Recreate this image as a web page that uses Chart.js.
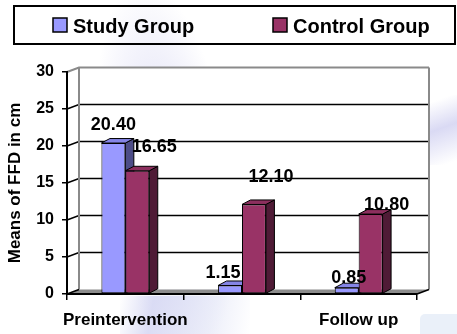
<!DOCTYPE html>
<html>
<head>
<meta charset="utf-8">
<script src="https://cdn.jsdelivr.net/npm/chart.js@4.4.1/dist/chart.umd.min.js"></script>
<style>
  html, body { margin: 0; padding: 0; }
  body { width: 457px; height: 334px; overflow: hidden; background: #ffffff; }
  #wrap { position: relative; width: 457px; height: 334px; }
  #wrap canvas { position: absolute; left: 0; top: 0; }
  .deco { position: absolute; pointer-events: none; }
  /* pale slide decoration behind the chart */
  #band { left: 95px; top: -20px; width: 130px; height: 380px;
          background: radial-gradient(ellipse 50% 50% at 55% 50%, rgba(200,200,238,0.65), rgba(255,255,255,0) 100%);
          transform: rotate(-8deg); }
  #foot { left: 120px; top: 296px; width: 130px; height: 38px;
          background: linear-gradient(100deg, rgba(215,215,242,0.0) 0%, rgba(210,212,242,0.8) 25%, rgba(225,228,246,0.6) 70%, rgba(255,255,255,0) 100%); }
  #streak { left: 428px; top: 95px; width: 40px; height: 70px;
          background: linear-gradient(160deg, rgba(255,255,255,0) 10%, rgba(205,205,240,0.75) 45%, rgba(255,255,255,0) 90%); }
  #tile { left: 420px; top: 314px; width: 50px; height: 30px; border-radius: 5px;
          background: rgba(232,238,248,0.9); }
</style>
</head>
<body>
<div id="wrap">
  <div class="deco" id="band"></div>
  <div class="deco" id="foot"></div>
  <div class="deco" id="streak"></div>
  <div class="deco" id="tile"></div>
  <canvas id="chart" width="457" height="334"></canvas>
</div>
<script>
// Mean FFD (cm) per assessment, for both groups
const categories = ['Preintervention', 'Postintervention', 'Follow up'];
const studyGroup = [20.40, 1.15, 0.85];
const controlGroup = [16.65, 12.10, 10.80];
const yTicks = [0, 5, 10, 15, 20, 25, 30];
const seriesNames = ['Study Group', 'Control Group'];

const FONT = "'Liberation Sans', Arial, sans-serif";

// colours: front, side, top
const palette = [
  { front: '#9999FF', side: '#4D4D88', top: '#8585E6' },
  { front: '#993366', side: '#4F1B36', top: '#8C2F5E' }
];

// depth of the back wall and of each column
const WALL = { dx: 12, dy: -4.5 };
const DEPTH = { dx: 8.5, dy: -4.5 };

// value label nudges (relative to top-centre of the column front)
const labelShift = [
  [[0, -18], [-7, -12], [2, -10]],
  [[17, -24], [17, -27], [16, -9]]
];

Chart.defaults.color = '#000';
Chart.defaults.font.family = FONT;

// back wall, gridlines and floor
const wallPlugin = {
  id: 'wall',
  beforeDraw(chart) {
    const ctx = chart.ctx, a = chart.chartArea, ys = chart.scales.y;
    const top = ys.getPixelForValue(30), bottom = ys.getPixelForValue(0);
    ctx.save();
    ctx.fillStyle = '#ffffff';
    ctx.fillRect(a.left + WALL.dx, top + WALL.dy, a.right - a.left, bottom - top);

    // gridlines, each with its short run back from the axis
    yTicks.forEach(v => {
      if (v === 0) return;
      const py = ys.getPixelForValue(v);
      ctx.beginPath();
      ctx.moveTo(a.left, py);
      ctx.lineTo(a.left + WALL.dx, py + WALL.dy);
      ctx.lineTo(a.right + WALL.dx, py + WALL.dy);
      ctx.strokeStyle = v === 30 ? '#8a8a8a' : '#000';
      ctx.lineWidth = v === 30 ? 2 : 1.5;
      ctx.stroke();
    });

    // wall side edges
    ctx.strokeStyle = '#8a8a8a';
    ctx.lineWidth = 2;
    ctx.beginPath();
    ctx.moveTo(a.left + WALL.dx, top + WALL.dy);
    ctx.lineTo(a.left + WALL.dx, bottom + WALL.dy);
    ctx.moveTo(a.right + WALL.dx, top + WALL.dy);
    ctx.lineTo(a.right + WALL.dx, bottom + WALL.dy);
    ctx.stroke();

    // floor
    ctx.beginPath();
    ctx.moveTo(a.left, bottom);
    ctx.lineTo(a.left + WALL.dx, bottom + WALL.dy);
    ctx.lineTo(a.right + WALL.dx, bottom + WALL.dy);
    ctx.lineTo(a.right, bottom);
    ctx.closePath();
    ctx.fillStyle = '#8c8c8c';
    ctx.fill();
    ctx.strokeStyle = '#000';
    ctx.lineWidth = 1.5;
    ctx.beginPath();
    ctx.moveTo(a.left, bottom);
    ctx.lineTo(a.left + WALL.dx, bottom + WALL.dy);
    ctx.moveTo(a.right, bottom);
    ctx.lineTo(a.right + WALL.dx, bottom + WALL.dy);
    ctx.stroke();
    ctx.restore();
  }
};

// side and top faces of the columns
const depthPlugin = {
  id: 'depth',
  beforeDatasetsDraw(chart) {
    const ctx = chart.ctx;
    ctx.save();
    ctx.lineWidth = 1;
    ctx.strokeStyle = '#000';
    ctx.lineJoin = 'round';
    categories.forEach((c, i) => {
      chart.data.datasets.forEach((ds, d) => {
        const el = chart.getDatasetMeta(d).data[i];
        if (!el) return;
        const p = el.getProps(['x', 'y', 'base', 'width'], true);
        const l = p.x - p.width / 2, r = p.x + p.width / 2;
        // side
        ctx.beginPath();
        ctx.moveTo(r, p.y);
        ctx.lineTo(r + DEPTH.dx, p.y + DEPTH.dy);
        ctx.lineTo(r + DEPTH.dx, p.base + DEPTH.dy);
        ctx.lineTo(r, p.base);
        ctx.closePath();
        ctx.fillStyle = palette[d].side;
        ctx.fill();
        ctx.stroke();
        // top
        ctx.beginPath();
        ctx.moveTo(l, p.y);
        ctx.lineTo(l + DEPTH.dx, p.y + DEPTH.dy);
        ctx.lineTo(r + DEPTH.dx, p.y + DEPTH.dy);
        ctx.lineTo(r, p.y);
        ctx.closePath();
        ctx.fillStyle = palette[d].top;
        ctx.fill();
        ctx.stroke();
      });
    });
    ctx.restore();
  }
};

// value labels and the boxed legend
const labelPlugin = {
  id: 'labels',
  afterDraw(chart) {
    const ctx = chart.ctx;
    ctx.save();
    ctx.fillStyle = '#000';
    ctx.font = 'bold 18px ' + FONT;
    ctx.textAlign = 'center';
    ctx.textBaseline = 'middle';
    chart.data.datasets.forEach((ds, d) => {
      chart.getDatasetMeta(d).data.forEach((el, i) => {
        const s = labelShift[d][i];
        ctx.fillText(ds.data[i].toFixed(2), el.x + s[0], el.y + s[1]);
      });
    });

    // legend box
    ctx.strokeStyle = '#000';
    ctx.lineWidth = 2;
    ctx.strokeRect(14, 6, 441, 38);
    const itemX = [53, 273];
    ctx.font = 'bold 20px ' + FONT;
    ctx.textAlign = 'left';
    ctx.textBaseline = 'alphabetic';
    chart.data.datasets.forEach((ds, d) => {
      ctx.fillStyle = ds.backgroundColor;
      ctx.fillRect(itemX[d], 18, 14, 14);
      ctx.lineWidth = 1.5;
      ctx.strokeRect(itemX[d], 18, 14, 14);
      ctx.fillStyle = '#000';
      ctx.fillText(ds.label, itemX[d] + 20, 33);
    });
    ctx.restore();
  }
};

new Chart(document.getElementById('chart'), {
  type: 'bar',
  data: {
    labels: categories,
    datasets: [
      { label: seriesNames[0], data: studyGroup, backgroundColor: palette[0].front },
      { label: seriesNames[1], data: controlGroup, backgroundColor: palette[1].front }
    ]
  },
  options: {
    responsive: false,
    animation: false,
    layout: { padding: { top: 72, right: 40, bottom: 0, left: 0 } },
    datasets: {
      bar: {
        categoryPercentage: 0.41,
        barPercentage: 1.0,
        borderWidth: 1,
        borderColor: '#000',
        borderSkipped: false
      }
    },
    plugins: {
      legend: { display: false },
      tooltip: { enabled: false }
    },
    scales: {
      x: {
        grid: { offset: true, drawOnChartArea: false, drawTicks: true, tickLength: 6, color: '#000', lineWidth: 1.5 },
        border: { display: true, color: '#000', width: 2 },
        ticks: {
          font: { size: 17, weight: 'bold' },
          color: '#000',
          padding: 10,
          maxRotation: 0,
          minRotation: 0,
          autoSkip: false,
          // long labels collide, so every other one is left off
          callback: (v, i) => (i % 2 === 0 ? categories[i] : '')
        },
        afterFit: s => { s.height = 40; }
      },
      y: {
        min: 0,
        max: 30,
        afterBuildTicks: s => { s.ticks = yTicks.map(v => ({ value: v })); },
        grid: { drawOnChartArea: false, drawTicks: true, tickLength: 5, color: '#000', lineWidth: 1.5 },
        border: { display: true, color: '#000', width: 2 },
        ticks: { font: { size: 16, weight: 'bold' }, color: '#000', padding: 8 },
        title: {
          display: true,
          text: 'Means of FFD in cm',
          font: { size: 17, weight: 'bold' },
          color: '#000',
          padding: { top: 5, bottom: 0 }
        },
        afterFit: s => { s.width = 67; }
      }
    }
  },
  plugins: [wallPlugin, depthPlugin, labelPlugin]
});
</script>
</body>
</html>
